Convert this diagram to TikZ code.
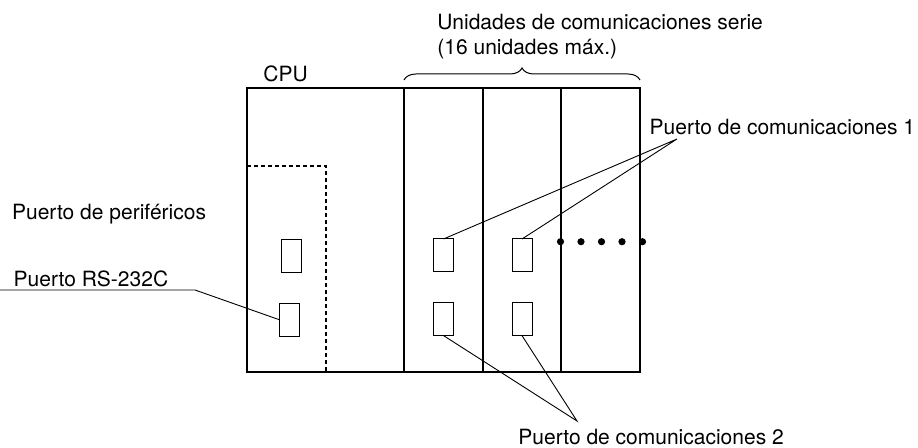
\documentclass[tikz,border=0pt]{standalone}
\usepackage{fontspec}
\setmainfont{TeX Gyre Heros}
\usetikzlibrary{positioning, decorations.pathreplacing}
\tikzset{
  module/.style={draw, line width=0.6pt, minimum height=142pt, inner sep=0pt, outer sep=0pt},
  unitbox/.style={module, line width=0.8pt, minimum width=39.5pt},
  port/.style={draw, line width=0.5pt, minimum width=10pt, minimum height=16.5pt, inner sep=0pt, outer sep=0pt},
  lbl/.style={font=\fontsize{10.5}{12}\selectfont, inner sep=0pt},
  leader/.style={line width=0.45pt},
  dot/.style={circle, fill=black, minimum size=3.6pt, inner sep=0pt},
  dashline/.style={dash pattern=on 2pt off 1.5pt, line width=0.65pt},
  brace/.style={decorate, decoration={brace, amplitude=6pt}, line width=0.5pt}
}

\begin{document}
\begin{tikzpicture}[x=0.5pt, y=-0.5pt]
\useasboundingbox (0,0) rectangle (918,448);

%% CPU and serial units
\node[module, minimum width=78.5pt] (cpu) at (325.5,230) {};
\node[unitbox, right=0pt of cpu] (unita) {};
\node[unitbox, minimum width=39pt, right=0pt of unita] (unitb) {};
\node[unitbox, right=0pt of unitb] (unitc) {};

%% ports
\node[port] (cpua) at (291.7,255.8) {};
\node[port] (cpub) at (289.2,319.7) {};
\node[port, below=75.5pt of unita.north] (unitaa) {};
\node[port, below=15.3pt of unitaa] (unitab) {};
\node[port, below=75.5pt of unitb.north] (unitba) {};
\node[port, below=15.3pt of unitba] (unitbb) {};

%% continuation dots
\foreach \i in {0,...,4}
  \node[dot] (dot\i) at (560.5+20.5*\i, 241.7) {};

%% dashed peripheral area
\coordinate (dcorner) at (326,166);
\draw[dashline] (cpu.west |- dcorner) -- (dcorner) -- (dcorner |- cpu.south);

%% labels
\node[lbl, anchor=base west] (cpulbl) at ([xshift=8pt, yshift=3.2pt]cpu.north west) {CPU};
\node[lbl, anchor=base west] (serlbl) at (437,29.5) {Unidades de comunicaciones serie};
\node[lbl, anchor=base west] (serlblb) at ([yshift=-12.3pt]serlbl.base west) {(16 unidades máx.)};
\node[lbl, anchor=base west] (perlbl) at (11.7,219.5) {Puerto de periféricos};
\node[lbl, anchor=base west] (rslbl) at (13.3,286.7) {Puerto RS-232C};
\node[lbl, anchor=base west] (coma) at (649.3,135) {Puerto de comunicaciones 1};
\node[lbl, anchor=base west] (comb) at (518,445) {Puerto de comunicaciones 2};

%% brace over the serial units
\draw[brace] ([yshift=4pt]unita.north west) -- ([yshift=4pt]unitc.north east);

%% leader lines
\coordinate (rsend) at (0,290);
\coordinate (rsknee) at (195,290);
\draw[leader] (rsend) -- (rsknee) -- (cpub.west);

\coordinate (comahub) at (677,139);
\draw[leader] (unitaa.north) -- (comahub) -- (unitba.north);

\coordinate (combhub) at (577,421);
\draw[leader] (unitab.south) -- (combhub) -- (unitbb.south);

\end{tikzpicture}
\end{document}
